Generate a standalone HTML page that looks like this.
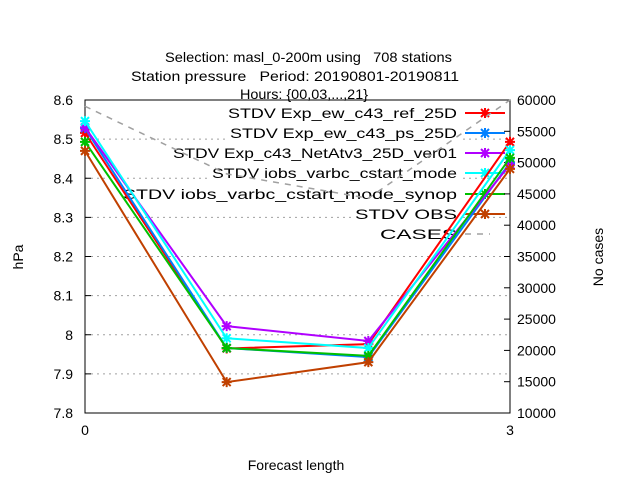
<!DOCTYPE html>
<html><head><meta charset="utf-8"><style>
body{margin:0;background:#fff}
svg{display:block;font-family:"Liberation Sans",sans-serif}
text{white-space:pre}
</style></head><body>
<svg id="chart" width="640" height="480" viewBox="0 0 640 480">
<rect width="640" height="480" fill="#fff"/>
<g font-size="14" fill="#000">
<text x="165" y="62" textLength="287" lengthAdjust="spacingAndGlyphs" xml:space="preserve">Selection: masl_0-200m using   708 stations</text>
<text x="131" y="81" textLength="328" lengthAdjust="spacingAndGlyphs" xml:space="preserve">Station pressure   Period: 20190801-20190811</text>
<text x="240" y="99" textLength="128" lengthAdjust="spacingAndGlyphs">Hours: {00,03,...,21}</text>
</g>
<g id="grid"></g>
<g id="legend"></g>
<g id="axes"></g>
<g id="series"></g>
<text x="23" y="257" font-size="14" text-anchor="middle" transform="rotate(-90 23 257)">hPa</text>
<text x="603" y="257" font-size="14" text-anchor="middle" transform="rotate(-90 603 257)">No cases</text>
<text x="296" y="470" font-size="14" text-anchor="middle">Forecast length</text>
</svg>
<script>
const xValues=[0,1,2,3];
const xTicks=[0,3];
const yTicks=[7.8,7.9,8,8.1,8.2,8.3,8.4,8.5,8.6];
const yTickLabels=["7.8","7.9","8","8.1","8.2","8.3","8.4","8.5","8.6"];
const y2Ticks=[10000,15000,20000,25000,30000,35000,40000,45000,50000,55000,60000];
const seriesNames=["STDV Exp_ew_c43_ref_25D","STDV Exp_ew_c43_ps_25D","STDV Exp_c43_NetAtv3_25D_ver01","STDV iobs_varbc_cstart_mode","STDV iobs_varbc_cstart_mode_synop","STDV OBS"];
const seriesColors=["#ff0000","#0080ff","#b000ff","#00ffff","#00c000","#c04000"];
const sRef=[8.516,7.965,7.976,8.493];
const sPs=[8.528,7.966,7.943,8.44];
const sNet=[8.53,8.022,7.984,8.435];
const sIobs=[8.546,7.991,7.966,8.472];
const sSynop=[8.493,7.966,7.946,8.452];
const sObs=[8.47,7.879,7.93,8.424];
const cases=[59000,48200,44300,60000];
const seriesValues=[sRef,sPs,sNet,sIobs,sSynop,sObs];

const NS="http://www.w3.org/2000/svg";
const L=85,R=510,T=100,B=413;
const xs=v=>L+(v-0)/(3-0)*(R-L);
const ys=v=>T+(8.6-v)/(8.6-7.8)*(B-T);
const y2s=v=>T+(60000-v)/(60000-10000)*(B-T);
function mk(tag,attrs,parent){const e=document.createElementNS(NS,tag);for(const k in attrs)e.setAttribute(k,attrs[k]);parent.appendChild(e);return e;}
const grid=document.getElementById('grid'),axes=document.getElementById('axes'),ser=document.getElementById('series'),leg=document.getElementById('legend');
yTicks.forEach((t,i)=>{
  const y=ys(t);
  if(i>0&&i<yTicks.length-1){const g=mk('line',{x1:L,x2:R,y1:y,y2:y,stroke:'#a0a0a0','stroke-dasharray':'2,4'},grid);
  
  }
  mk('line',{x1:L,x2:L+6,y1:y,y2:y,stroke:'#000'},axes);
  const tx=mk('text',{x:L-12,y:y+5,'font-size':14,'text-anchor':'end'},axes);tx.textContent=yTickLabels[i];
  
  
});
y2Ticks.forEach(t=>{
  const y=y2s(t);
  mk('line',{x1:R-6,x2:R,y1:y,y2:y,stroke:'#000'},axes);
  const tx=mk('text',{x:517,y:y+5,'font-size':14},axes);tx.textContent=t;
  
  
});
xTicks.forEach(t=>{
  const x=xs(t);
  mk('line',{x1:x,x2:x,y1:B,y2:B-6,stroke:'#000'},axes);
  const tx=mk('text',{x:x,y:B+22,'font-size':14,'text-anchor':'middle'},axes);tx.textContent=t;
  
  
});
mk('rect',{x:L,y:T,width:R-L,height:B-T,fill:'none',stroke:'#000'},axes);
function marker(x,y,c,p){const s=4;
 mk('path',{d:`M${x-s} ${y-s}L${x+s} ${y+s}M${x-s} ${y+s}L${x+s} ${y-s}M${x-s-1} ${y}L${x+s+1} ${y}M${x} ${y-s-1}L${x} ${y+s+1}`,stroke:c,'stroke-width':2,fill:'none'},p);}
const legY=[113,133,153,173,194,214,234];
const legStart=[228,230,173,212,123,355,380];
const cl=mk('polyline',{points:xValues.map((x,i)=>xs(x)+','+y2s(cases[i])).join(' '),fill:'none',stroke:'#a0a0a0','stroke-width':1.5,'stroke-dasharray':'6,6'},ser);


seriesValues.forEach((vals,k)=>{
  const g=mk('g',{},ser);
  
  
  mk('polyline',{points:xValues.map((x,i)=>xs(x)+','+ys(vals[i])).join(' '),fill:'none',stroke:seriesColors[k],'stroke-width':2},g);
  xValues.forEach((x,i)=>marker(xs(x),ys(vals[i]),seriesColors[k],g));
});
const names=seriesNames.concat(["CASES"]);
names.forEach((n,k)=>{
  const g=mk('g',{},leg);
  
  
  const y=legY[k];
  const w=457-legStart[k];
  mk('rect',{x:legStart[k]-2,y:y-9,width:w+4,height:18,fill:'#fff'},g);
  const tx=mk('text',{x:legStart[k],y:y+5,'font-size':14,textLength:w,lengthAdjust:'spacingAndGlyphs'},g);tx.textContent=n;
  if(k<6){mk('line',{x1:465,x2:505,y1:y,y2:y,stroke:seriesColors[k],'stroke-width':2},g);marker(485,y,seriesColors[k],g);}
  else mk('line',{x1:465,x2:490,y1:y,y2:y,stroke:'#a0a0a0','stroke-width':1.5,'stroke-dasharray':'6,6'},g);
});
</script>
</body></html>
